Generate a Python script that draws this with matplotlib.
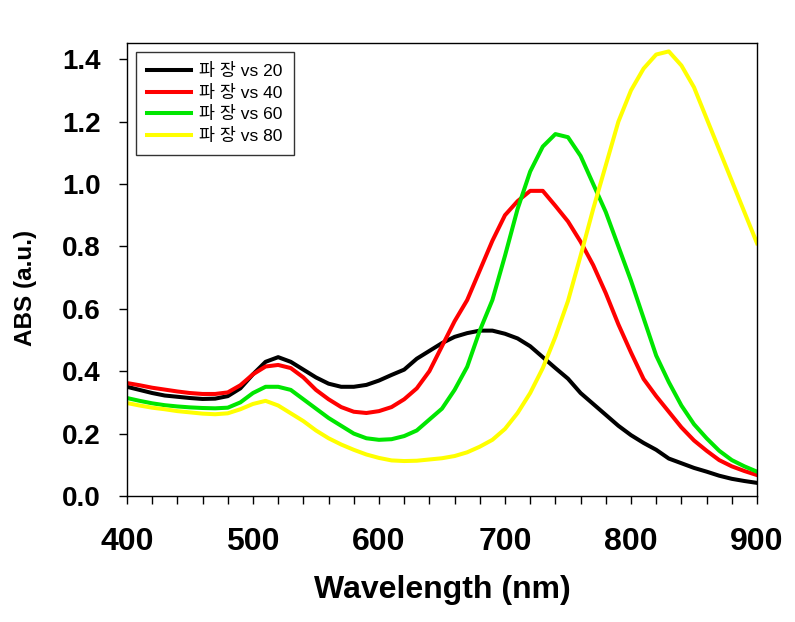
import matplotlib
matplotlib.use("Agg")
import matplotlib.pyplot as plt
from matplotlib.ticker import MultipleLocator

wavelength = [400, 410, 420, 430, 440, 450, 460, 470, 480, 490,
              500, 510, 520, 530, 540, 550, 560, 570, 580, 590,
              600, 610, 620, 630, 640, 650, 660, 670, 680, 690,
              700, 710, 720, 730, 740, 750, 760, 770, 780, 790,
              800, 810, 820, 830, 840, 850, 860, 870, 880, 890, 900]

abs_20 = [0.350, 0.340, 0.330, 0.322, 0.318, 0.314, 0.311, 0.312, 0.320, 0.345,
          0.390, 0.430, 0.445, 0.430, 0.405, 0.380, 0.360, 0.350, 0.350, 0.356,
          0.370, 0.388, 0.405, 0.440, 0.465, 0.490, 0.510, 0.522, 0.530, 0.530,
          0.520, 0.505, 0.480, 0.445, 0.410, 0.376, 0.330, 0.295, 0.260, 0.225,
          0.195, 0.170, 0.148, 0.120, 0.105, 0.090, 0.078, 0.065, 0.055, 0.048, 0.042]

abs_40 = [0.362, 0.355, 0.347, 0.341, 0.335, 0.330, 0.327, 0.327, 0.332, 0.355,
          0.390, 0.415, 0.420, 0.410, 0.380, 0.340, 0.310, 0.285, 0.270, 0.266,
          0.272, 0.285, 0.310, 0.345, 0.400, 0.480, 0.560, 0.628, 0.723, 0.818,
          0.900, 0.945, 0.978, 0.978, 0.930, 0.880, 0.815, 0.740, 0.650, 0.550,
          0.460, 0.375, 0.320, 0.270, 0.220, 0.178, 0.145, 0.115, 0.095, 0.080, 0.067]

abs_60 = [0.314, 0.305, 0.297, 0.291, 0.287, 0.284, 0.282, 0.281, 0.283, 0.300,
          0.330, 0.350, 0.350, 0.340, 0.310, 0.280, 0.250, 0.225, 0.200, 0.185,
          0.180, 0.182, 0.192, 0.210, 0.245, 0.280, 0.340, 0.414, 0.530, 0.628,
          0.770, 0.920, 1.040, 1.120, 1.160, 1.150, 1.090, 1.000, 0.910, 0.800,
          0.690, 0.570, 0.450, 0.365, 0.290, 0.230, 0.185, 0.145, 0.115, 0.095, 0.078]

abs_80 = [0.298, 0.290, 0.283, 0.278, 0.272, 0.268, 0.264, 0.262, 0.265, 0.278,
          0.295, 0.305, 0.290, 0.265, 0.240, 0.210, 0.185, 0.165, 0.148, 0.133,
          0.122, 0.114, 0.112, 0.113, 0.117, 0.121, 0.128, 0.140, 0.158, 0.180,
          0.215, 0.266, 0.330, 0.410, 0.510, 0.625, 0.770, 0.920, 1.060, 1.200,
          1.300, 1.370, 1.415, 1.425, 1.380, 1.310, 1.210, 1.110, 1.010, 0.910, 0.810]

labels = ["파 장 vs 20", "파 장 vs 40", "파 장 vs 60", "파 장 vs 80"]
colors = ["#000000", "#ff0000", "#00e600", "#ffff00"]
series = [abs_20, abs_40, abs_60, abs_80]

plt.rcParams['font.family'] = ['Liberation Sans', 'Noto Sans CJK KR']

fig = plt.figure(figsize=(7.95, 6.22), dpi=100)
ax = fig.add_axes([0.1597, 0.2026, 0.7925, 0.7283])

for ys, lab, c in zip(series, labels, colors):
    ax.plot(wavelength, ys, color=c, lw=2.9, label=lab)

ax.set_xlim(400, 900)
ax.set_ylim(0, 1.452)
ax.xaxis.set_major_locator(MultipleLocator(100))
ax.xaxis.set_minor_locator(MultipleLocator(20))
ax.yaxis.set_major_locator(MultipleLocator(0.2))
ax.yaxis.set_major_formatter(matplotlib.ticker.FormatStrFormatter('%.1f'))
ax.tick_params(which='both', direction='out', length=6, width=1, top=False, right=False)
ax.tick_params(axis='x', labelsize=23, pad=16)
ax.tick_params(axis='y', labelsize=20, pad=13)
for t in ax.get_xticklabels() + ax.get_yticklabels():
    t.set_fontweight('bold')
for s in ax.spines.values():
    s.set_linewidth(1)

ax.set_xlabel("Wavelength (nm)", fontsize=23, fontweight='bold', labelpad=13)
ax.set_ylabel("ABS (a.u.)", fontsize=17.5, fontweight='bold', labelpad=18)
ax.yaxis.label.set_y(0.46)

leg = ax.legend(loc='upper left', fontsize=12.5, frameon=True, fancybox=False,
                edgecolor='black', handlelength=2.5, handletextpad=0.5,
                borderpad=0.65, labelspacing=0.32, borderaxespad=0,
                bbox_to_anchor=(0.0143, 0.980))
leg.get_frame().set_linewidth(1)

fig.savefig("out.png", dpi=100)
